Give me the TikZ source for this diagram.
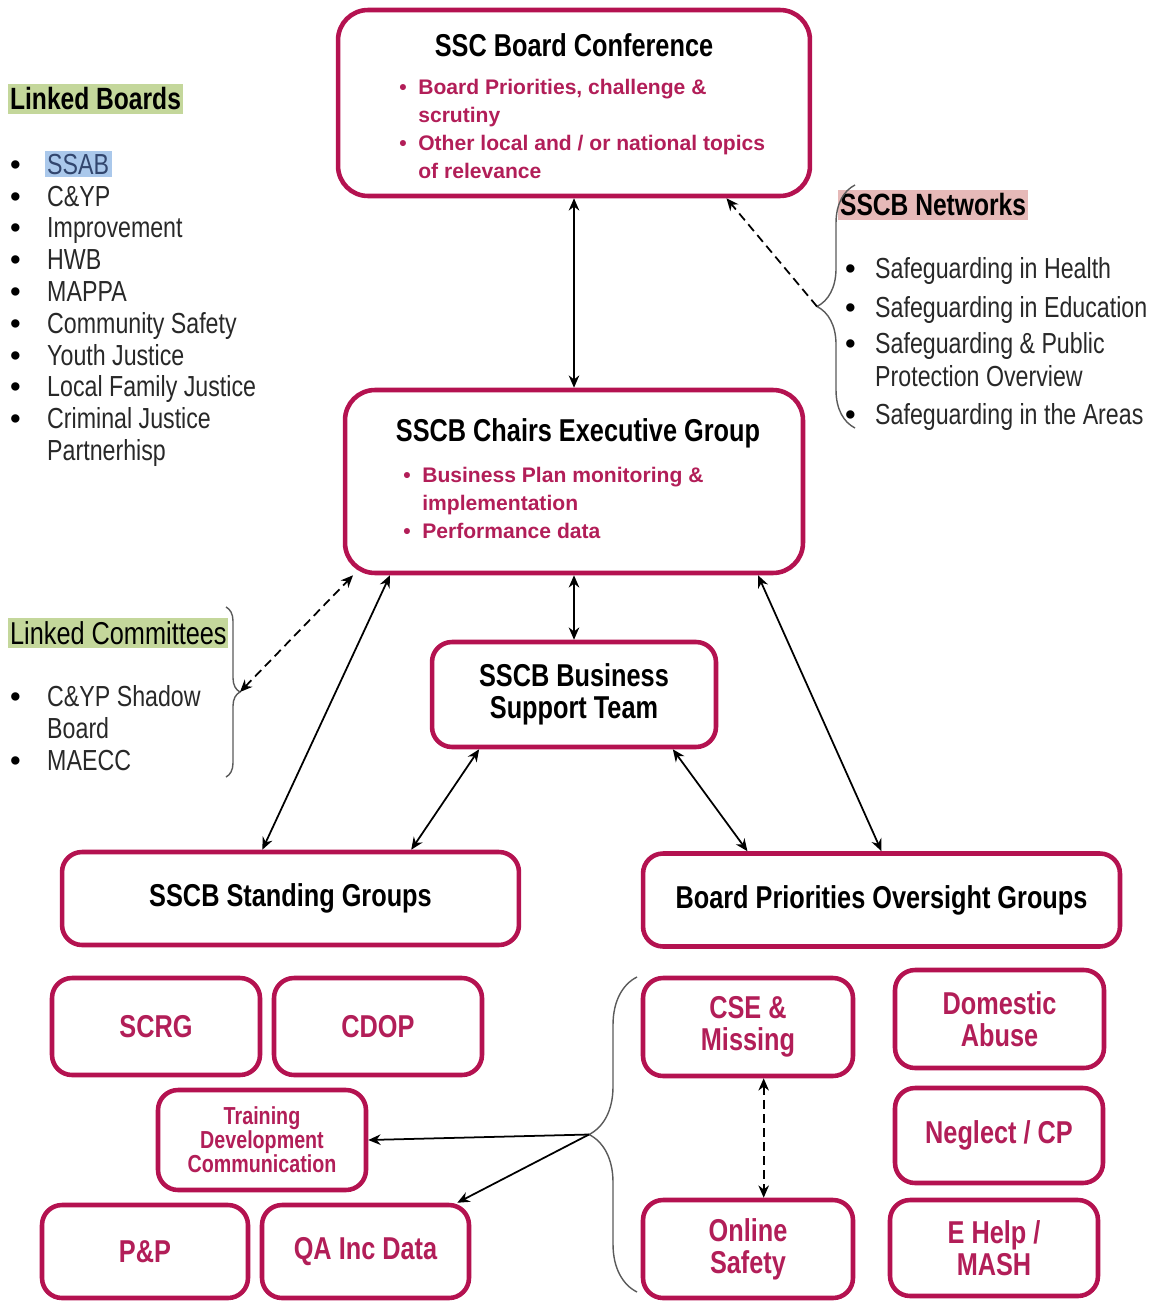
\documentclass[tikz,border=0pt]{standalone}
\usepackage{fontspec}
\setmainfont{Liberation Sans}[FakeStretch=0.8]
\newfontfamily\widesans{Liberation Sans}
\usetikzlibrary{arrows.meta,decorations.pathreplacing}
\definecolor{boxred}{RGB}{180,18,80}
\definecolor{txtred}{RGB}{178,30,88}
\definecolor{listgray}{RGB}{40,40,40}
\definecolor{hlgreen}{RGB}{196,215,155}
\definecolor{hlpink}{RGB}{230,185,184}
\definecolor{hlblue}{RGB}{170,200,235}
\definecolor{ssabtext}{RGB}{50,70,110}
\definecolor{bracegray}{RGB}{90,90,90}
\newcommand{\lbul}{\leavevmode{\color{black}\widesans\bfseries •}}
\begin{document}
\begin{tikzpicture}[x=0.02cm,y=-0.02cm,
    box/.style={draw=boxred,line width=2.6pt,rounded corners=0.4cm,inner sep=0pt,
      align=center,text=txtred,font=\fontsize{18}{18}\selectfont\bfseries},
    bigbox/.style={box,text=black,rounded corners=0.6cm},
    ttl/.style={inner sep=0pt,font=\fontsize{18}{18}\selectfont\bfseries},
    bul/.style={inner sep=0pt,anchor=north west,text=txtred,
      font=\widesans\fontsize{12}{16}\selectfont\bfseries},
    lst/.style={inner sep=0pt,anchor=north west,text=listgray,
      font=\fontsize{16.5}{18.1}\selectfont},
    hl/.style={anchor=west,inner xsep=1pt,inner ysep=0pt,minimum height=0.6cm,text=black},
    curly/.style={decorate,decoration={brace,amplitude=#1},draw=bracegray,line width=0.8pt},
    ar/.style={{Stealth[length=7pt,width=6pt]}-{Stealth[length=7pt,width=6pt]},line width=1pt},
    dar/.style={ar,dashed,dash pattern=on 5pt off 3pt}]
    \useasboundingbox (0,0) rectangle (1161,1301);

    % the boards
    \node[bigbox,minimum width=9.44cm,minimum height=3.72cm] (conf) at (574,103) {};
    \node[ttl] (conftitle) at (574,45) {SSC Board Conference};
    \node[bul] (confitems) at (399,74) {\begin{tabular}{@{}p{10.8pt}@{}l@{}}
        •&Board Priorities, challenge \&\\
        &scrutiny\\
        •&Other local and / or national topics\\
        &of relevance\end{tabular}};

    \node[bigbox,minimum width=9.16cm,minimum height=3.66cm] (ceg) at (574,481.5) {};
    \node[ttl] (cegtitle) at (578,433) {SSCB Chairs Executive Group};
    \node[bul] (cegitems) at (403,462) {\begin{tabular}{@{}p{10.8pt}@{}l@{}}
        •&Business Plan monitoring \&\\
        &implementation\\
        •&Performance data\end{tabular}};

    \node[bigbox,rounded corners=0.4cm,minimum width=5.68cm,minimum height=2.1cm] (bst)
      at (574,694.5) {SSCB Business\\Support Team};
    \node[bigbox,rounded corners=0.4cm,minimum width=9.14cm,minimum height=1.86cm] (stand)
      at (290.5,898.5) {SSCB Standing Groups};
    \node[bigbox,rounded corners=0.4cm,minimum width=9.54cm,minimum height=1.86cm] (prio)
      at (881.5,900) {Board Priorities Oversight Groups};

    % the groups
    \node[box,minimum width=4.16cm,minimum height=1.94cm] (scrg) at (156,1026.5) {SCRG};
    \node[box,minimum width=4.16cm,minimum height=1.94cm] (cdop) at (378,1026.5) {CDOP};
    \node[box,minimum width=4.16cm,minimum height=2cm,
      font=\fontsize{14}{13.6}\selectfont\bfseries] (tdc) at (262,1140)
      {Training\\Development\\Communication};
    \node[box,minimum width=4.12cm,minimum height=1.86cm] (pp) at (145,1251.5) {P\&P};
    \node[box,minimum width=4.14cm,minimum height=1.86cm] (qa) at (365.5,1251.5) {QA Inc Data};
    \node[box,minimum width=4.2cm,minimum height=1.96cm] (cse) at (748,1027) {CSE \&\\Missing};
    \node[box,minimum width=4.18cm,minimum height=1.96cm] (da) at (999.5,1019) {Domestic\\Abuse};
    \node[box,minimum width=4.16cm,minimum height=1.9cm] (neg) at (999,1135.5) {Neglect / CP};
    \node[box,minimum width=4.16cm,minimum height=1.92cm] (ehelp) at (994,1248) {E Help /\\MASH};
    \node[box,minimum width=4.2cm,minimum height=1.96cm] (online) at (748,1249) {Online\\Safety};

    % the side lists
    \node[hl,fill=hlgreen,font=\fontsize{17.5}{17.5}\selectfont\bfseries] (lbhead)
      at (8,99) {Linked Boards};
    \node[lst] (lblist) at (10,151) {\begin{tabular}{@{}p{21pt}@{}l@{}}
        \lbul&\hspace{-1.5pt}{\fboxsep=1.5pt\colorbox{hlblue}{\textcolor{ssabtext}{SSAB}}}\\
        \lbul&C\&YP\\
        \lbul&Improvement\\
        \lbul&HWB\\
        \lbul&MAPPA\\
        \lbul&Community Safety\\
        \lbul&Youth Justice\\
        \lbul&Local Family Justice\\
        \lbul&Criminal Justice\\
        &Partnerhisp\end{tabular}};

    \node[hl,fill=hlgreen,font=\fontsize{18}{18}\selectfont] (lchead)
      at (8,633) {Linked Committees};
    \node[lst] (lclist) at (10,684) {\begin{tabular}{@{}p{21pt}@{}l@{}}
        \lbul&C\&YP Shadow\\
        &Board\\
        \lbul&MAECC\end{tabular}};

    \node[hl,fill=hlpink,font=\fontsize{17.5}{17.5}\selectfont\bfseries] (nethead)
      at (838,205) {SSCB Networks};
    \node[lst,font=\fontsize{16.5}{19}\selectfont] (netlist) at (845,255)
      {\begin{tabular}{@{}p{17pt}@{}l@{}}
        \lbul&Safeguarding in Health\\[3pt]
        \lbul&Safeguarding in Education\\[1.5pt]
        \lbul&Safeguarding \& Public\\
        &Protection Overview\\[2.5pt]
        \lbul&Safeguarding in the Areas\end{tabular}};

    % the braces
    \draw[curly=0.76cm] (855,428) -- (855,185);
    \draw[curly=0.28cm] (226,607) -- (226,777);
    \draw[curly=0.96cm] (637,1292) -- (637,977);
    \coordinate (nettip) at (817,306.5);
    \coordinate (comtip) at (240,692);
    \coordinate (grptip) at (589,1134.5);

    % the links
    \draw[ar] (conf.south) -- (ceg.north);
    \draw[dar,-{Stealth[length=7pt,width=6pt]}] (nettip) -- (conf.-32);
    \draw[dar] (comtip) -- (ceg.203);
    \draw[ar] (ceg.207) -- (stand.120);
    \draw[ar] (ceg.south) -- (bst.north);
    \draw[ar] (ceg.-27) -- (prio.north);
    \draw[ar] (bst.210) -- (stand.22);
    \draw[ar] (bst.-29) -- (prio.160);
    \draw[ar,{Stealth[length=7pt,width=6pt]}-] (tdc.east) -- (grptip);
    \draw[ar,{Stealth[length=7pt,width=6pt]}-] (qa.28) -- (grptip);
    \draw[dar] (cse.-73) -- (online.73);

  \end{tikzpicture}
\end{document}
